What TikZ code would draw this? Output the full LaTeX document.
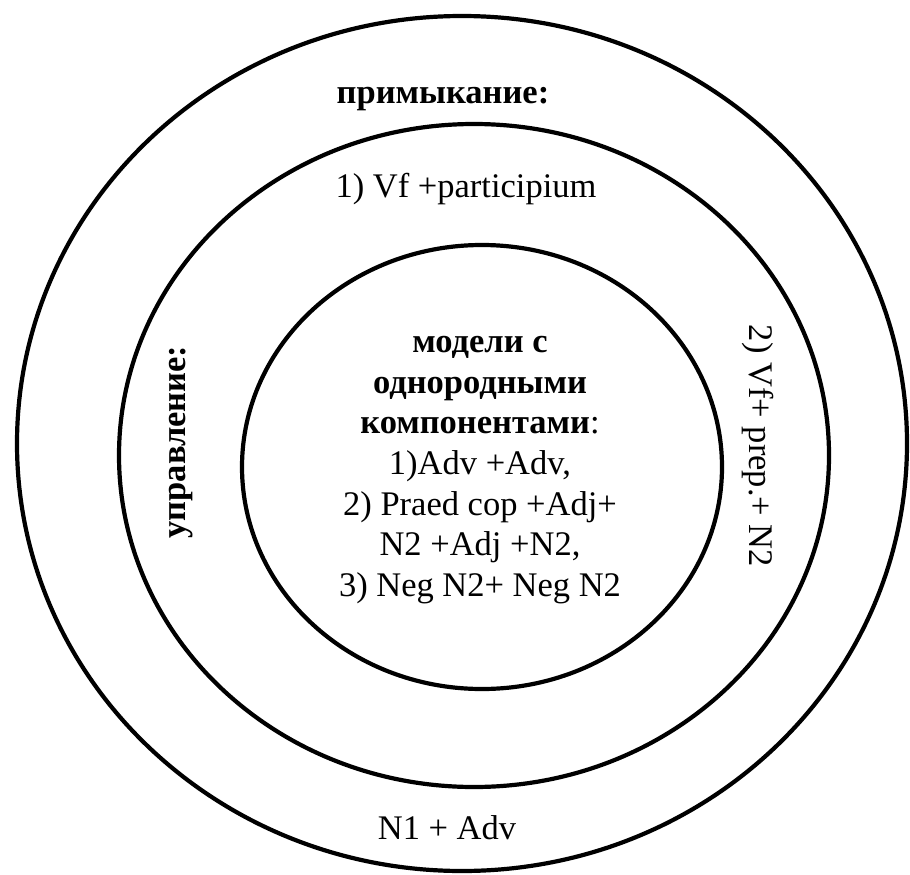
\documentclass[tikz,border=0pt]{standalone}
\usepackage{fontspec}
\setmainfont{Liberation Serif}
\begin{document}
\begin{tikzpicture}[x=1pt,y=-1pt,
  ring/.style={draw=black,line width=4.2pt},
  lbl/.style={font=\fontsize{34.5}{41}\selectfont,inner sep=0pt,anchor=base},
  blbl/.style={font=\fontsize{34.5}{41}\selectfont\bfseries,inner sep=0pt,anchor=base}]
\useasboundingbox (0,0) rectangle (910,875);
\clip (0,0) rectangle (910,875);
\fill[white] (0,0) rectangle (910,875);
\draw[ring] (462,443.5) ellipse [x radius=445, y radius=427.5];
\draw[ring] (474,455.5) ellipse [x radius=355, y radius=331.5];
\draw[ring] (482,467) ellipse [x radius=240, y radius=222];
\node[blbl] (prim) at (443,103) {примыкание:};
\node[lbl] (vf) at (466,197) {1) Vf +participium};
\node[blbl,anchor=center,rotate=90] (upr) at (181,442) {управление:};
\node[lbl,anchor=center,rotate=-90] (prep) at (758,446) {2) Vf+ prep.+ N2};
\node[lbl,anchor=center] (n1) at (447,828) {N1 + Adv};
\node[font=\fontsize{34.5}{40.7}\selectfont,inner sep=0pt,align=center,anchor=north] (core) at (480,336)
  {\textbf{модели с}\\ \textbf{однородными}\\ \textbf{компонентами}:\\ 1)Adv +Adv,\\ 2) Praed cop +Adj+\\ N2 +Adj +N2,\\ 3) Neg N2+ Neg N2};
\end{tikzpicture}
\end{document}
